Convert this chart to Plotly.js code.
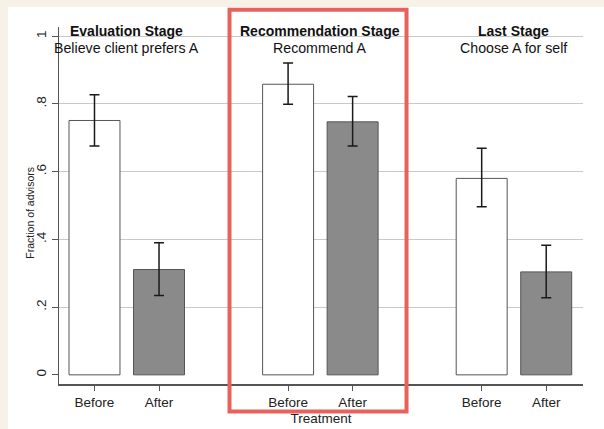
<!DOCTYPE html>
<html>
<head>
<meta charset="utf-8">
<script src="https://cdn.plot.ly/plotly-3.0.1.min.js"></script>
<style>
  html, body { margin: 0; padding: 0; background: #f6f2e7; width: 604px; height: 429px; overflow: hidden; }
  #chart { position: absolute; left: 8px; top: 7px; width: 596px; height: 422px; background: #ffffff; }
</style>
</head>
<body>
<div id="chart"></div>
<script>
// ---- data ----
const stageTitles = ["Evaluation Stage", "Recommendation Stage", "Last Stage"];
const stageSubtitles = ["Believe client prefers A", "Recommend A", "Choose A for self"];
const treatments = ["Before", "After"];

const beforeValues = [0.751, 0.858, 0.580];
const beforeCIHigh = [0.827, 0.921, 0.669];
const beforeCILow  = [0.676, 0.799, 0.496];

const afterValues = [0.311, 0.747, 0.304];
const afterCIHigh = [0.390, 0.822, 0.383];
const afterCILow  = [0.234, 0.676, 0.228];

const yTickVals = [0, 0.2, 0.4, 0.6, 0.8, 1];
const yTickText = ["0", ".2", ".4", ".6", ".8", "1"];
const yTitle = "Fraction of advisors";
const xTitle = "Treatment";

// ---- layout mapping (stage index * 3 + treatment index) ----
const GROUP_STEP = 3;
const posOf = (g, t) => g * GROUP_STEP + t;
const beforeX = stageTitles.map((_, g) => posOf(g, 0));
const afterX = stageTitles.map((_, g) => posOf(g, 1));

const font = "Liberation Sans, Arial, Helvetica, sans-serif";
const txt = "#222222";

function errSpec(vals, hi, lo) {
  return {
    type: "data", symmetric: false,
    array: vals.map((v, i) => hi[i] - v),
    arrayminus: vals.map((v, i) => v - lo[i]),
    color: "#1a1a1a", thickness: 1.5, width: 5
  };
}

const traces = [
  {
    type: "bar", name: treatments[0], x: beforeX, y: beforeValues, width: 0.79,
    marker: { color: "#ffffff", line: { color: "#555555", width: 1 } },
    error_y: errSpec(beforeValues, beforeCIHigh, beforeCILow),
    hoverinfo: "y"
  },
  {
    type: "bar", name: treatments[1], x: afterX, y: afterValues, width: 0.79,
    marker: { color: "#8a8a8a", line: { color: "#555555", width: 1 } },
    error_y: errSpec(afterValues, afterCIHigh, afterCILow),
    hoverinfo: "y"
  }
];

const annotations = [];
stageTitles.forEach((t, g) => {
  const cx = (posOf(g, 0) + posOf(g, 1)) / 2;
  annotations.push({
    x: cx, y: 1.0156, xref: "x", yref: "y", text: "<b>" + t + "</b>",
    showarrow: false, xanchor: "center", yanchor: "middle",
    font: { family: font, size: 14, color: "#111111" }
  });
  annotations.push({
    x: cx, y: 0.965, xref: "x", yref: "y", text: stageSubtitles[g],
    showarrow: false, xanchor: "center", yanchor: "middle",
    font: { family: font, size: 14.2, color: "#111111" }
  });
});
annotations.push({
  x: -0.056, y: 0.479, xref: "paper", yref: "paper", text: yTitle,
  showarrow: false, textangle: -90, xanchor: "center", yanchor: "middle",
  font: { family: font, size: 10.5, color: txt }
});

const layout = {
  width: 596, height: 422,
  margin: { l: 51, r: 21, t: 20, b: 45, pad: 0 },
  paper_bgcolor: "#ffffff", plot_bgcolor: "#ffffff",
  showlegend: false,
  barmode: "overlay",
  font: { family: font, color: txt },
  xaxis: {
    range: [-0.55, 7.57],
    tickmode: "array",
    tickvals: beforeX.concat(afterX),
    ticktext: beforeX.map(() => treatments[0]).concat(afterX.map(() => treatments[1])),
    ticks: "outside", ticklen: 5, tickwidth: 1, tickcolor: "#555555",
    tickfont: { family: font, size: 13.5, color: txt },
    showgrid: false, zeroline: false,
    showline: true, linecolor: "#555555", linewidth: 1.5,
    title: { text: xTitle, font: { family: font, size: 13.5, color: txt }, standoff: 5 },
    fixedrange: true
  },
  yaxis: {
    range: [-0.027, 1.027],
    tickmode: "array", tickvals: yTickVals, ticktext: yTickText,
    tickangle: -90,
    ticks: "outside", ticklen: 6, tickwidth: 1, tickcolor: "#555555",
    tickfont: { family: font, size: 13.5, color: txt },
    showgrid: true, gridcolor: "#c9c9c9", gridwidth: 1,
    zeroline: true, zerolinecolor: "#ffffff", zerolinewidth: 2,
    showline: true, linecolor: "#555555", linewidth: 1.5,
    fixedrange: true
  },
  annotations: annotations,
  shapes: [{
    type: "rect", xref: "paper", yref: "paper",
    x0: 0.3254, x1: 0.6632, y0: -0.077, y1: 1.048,
    line: { color: "#e8625c", width: 4 }, fillcolor: "rgba(0,0,0,0)", layer: "above"
  }]
};

Plotly.newPlot("chart", traces, layout, { staticPlot: true, displayModeBar: false });
</script>
</body>
</html>
